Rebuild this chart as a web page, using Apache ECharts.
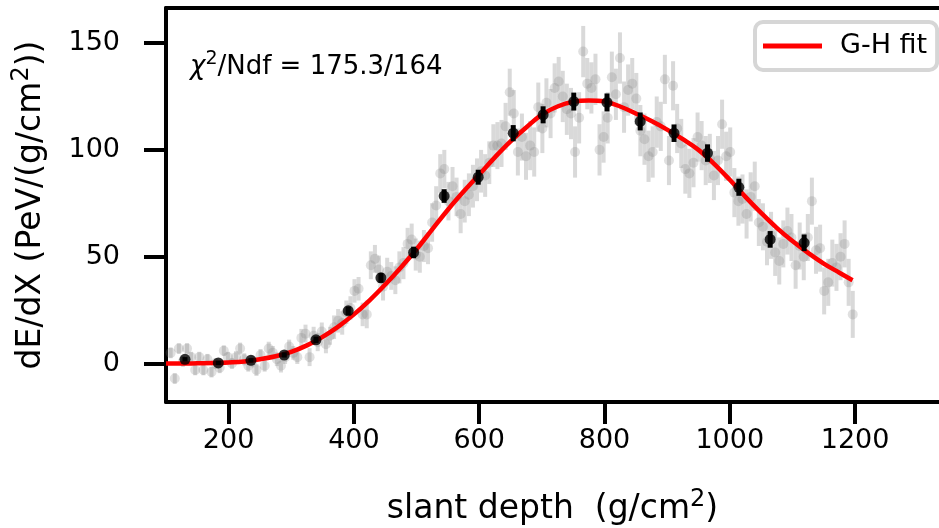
<!DOCTYPE html>
<html><head><meta charset="utf-8">
<script src="https://cdn.jsdelivr.net/npm/echarts@6/dist/echarts.min.js"></script>
<style>html,body{margin:0;padding:0;background:#fff}#c{width:939px;height:528px}</style>
</head><body><div id="c"></div>
<script>
// individual measurements (grey)
const greyX = [107.5,114.0,120.5,127.1,133.6,140.1,146.6,153.1,159.7,166.2,172.7,179.2,185.7,192.3,198.8,205.3,211.8,218.3,224.9,231.4,237.9,244.4,250.9,257.5,264.0,270.5,277.0,283.5,290.1,296.6,303.1,309.6,316.1,322.7,329.2,335.7,342.2,348.7,355.3,361.8,368.3,374.8,381.3,387.9,394.4,400.9,407.4,413.9,420.5,427.0,433.5,440.0,446.5,453.1,459.6,466.1,472.6,479.1,485.7,492.2,498.7,505.2,511.7,518.3,524.8,531.3,537.8,544.3,550.9,557.4,563.9,570.4,576.9,583.5,590.0,596.5,603.0,609.5,616.1,622.6,629.1,635.6,642.1,648.7,655.2,661.7,668.2,674.7,681.3,687.8,694.3,700.8,707.3,713.9,720.4,726.9,733.4,739.9,746.5,753.0,759.5,766.0,772.5,779.1,785.6,792.1,798.6,805.1,811.7,818.2,824.7,831.2,837.7,844.3,850.8,857.3,863.8,870.3,876.9,883.4,889.9,896.4,902.9,909.5,916.0,922.5,929.0,935.5,942.1,948.6,955.1,961.6,968.1,974.7,981.2,987.7,994.2,1000.7,1007.3,1013.8,1020.3,1026.8,1033.3,1039.9,1046.4,1052.9,1059.4,1065.9,1072.5,1079.0,1085.5,1092.0,1098.5,1105.1,1111.6,1118.1,1124.6,1131.1,1137.7,1144.2,1150.7,1157.2,1163.7,1170.3,1176.8,1183.3,1189.8,1196.3];
const greyY = [5,-7,7,1,7,3,-3,3, -3,2,-4,0,-2,6,3,0, 3,7,2,-1,1,-3,4,-1, 7,5,2,-1,3,8,5,3,
  12,14,3,13,10,15,9,13, 17,20,19,24,26,34,35,23, 23,46,49,44,36,43,41,39, 45,47,56,58,51,50,55,54,
  66,74,89,91,76,83,78,70, 76,79,83,86,90,88,94,102, 102,103,111,127,117,99,106,97, 102,99,120,110,122,117,129,132,
  125,119,117,99,115,146,131,129, 133,100,106,115,134,126,143,120, 128,131,124,109,105,97,99,113, 111,133,95,130,110,103,91,89,
  94,106,102,95,96,88,95,112, 97,99,80,76,77,70,78,83, 66,64,57,60,52,48,56,62, 59,46,55,50,59,76,53,54,
  34,38,47,45,50,56,38,23];
const greyErr = [2.5,2.5,2.5,2.5,2.5,2.5,2.5,2.5, 2.5,2.5,2.5,2.5,2.5,2.5,2.5,2.5, 2.8,2.8,2.8,2.8,2.8,2.8,2.8,2.8, 3.2,3.2,3.2,3.2,3.2,3.2,3.2,3.2,
  4.2,4.2,4.2,4.2,4.2,4.2,4.2,4.2, 5.5,5.5,5.5,5.5,5.5,5.5,5.5,5.5, 6.5,6.5,6.5,6.5,6.5,6.5,6.5,6.5, 7.5,7.5,7.5,7.5,7.5,7.5,7.5,7.5,
  9,9,9,9,9,9,9,9, 10,10,10,10,10,10,10,10, 11,11,11,11,11,11,11,11, 11.5,11.5,11.5,11.5,11.5,11.5,11.5,11.5,
  12,12,12,12,12,12,12,12, 12,12,12,12,12,12,12,12, 12,12,12,12,12,12,12,12, 11.5,11.5,11.5,11.5,11.5,11.5,11.5,11.5,
  11.5,11.5,11.5,11.5,11.5,11.5,11.5,11.5, 11.5,11.5,11.5,11.5,11.5,11.5,11.5,11.5, 11,11,11,11,11,11,11,11, 11,11,11,11,11,11,11,11,
  11,11,11,11,11,11,11,11];
// binned averages (black)
const binX = [130.3,183.5,235.6,288.8,339.4,390.9,443.1,495.3,544,598.4,654.3,702,751,804,857,911,964.5,1014.5,1064.5,1118.7];
const binY = [2.0,0.3,1.5,4.0,11.1,24.7,40.1,52.0,78.4,87.2,107.8,116.4,122.6,122.2,113.3,107.8,98.5,82.5,58.1,56.5];
const binErr = [1,1,1,1.2,1.5,2,2.3,2.7,3.2,3.5,3.8,4,4.2,4.2,4.2,4.1,4.1,4,3.9,3.9];
// Gaisser-Hillas fit curve
const fitX = [100,125,150,175,200,225,250,275,300,325,350,375,400,425,450,475,500,525,550,575,600,625,650,675,700,725,750,775,800,825,850,875,900,925,950,975,1000,1025,1050,1075,1100,1125,1150,1175,1196];
const fitY = [0,0,0.1,0.2,0.5,1.0,2.0,3.4,5.5,8.5,12.5,17.3,23,29.6,37,45,53.5,62.8,72,80.5,88.5,96.5,104,110.5,116.5,120.3,122.5,123.1,122.6,120.3,117,113.5,109.5,105,100,93.5,86,78,70.5,63.5,57.3,51.8,46.8,42.5,39];
const xTicks = [200,400,600,800,1000,1200];
const yTicks = [0,50,100,150];

const FONT = 'DejaVu Sans';
const chart = echarts.init(document.getElementById('c'), null, {renderer: 'canvas'});

function zip3(a, b, c) { return a.map((v, i) => [v, b[i], c[i]]); }
function errRender(color, width) {
  return function (params, api) {
    const x = api.value(0), y = api.value(1), e = api.value(2);
    const p1 = api.coord([x, y - e]);
    const p2 = api.coord([x, y + e]);
    return {type: 'line', shape: {x1: p1[0], y1: p1[1], x2: p2[0], y2: p2[1]},
      style: {stroke: color, lineWidth: width}};
  };
}
const GREY = 'rgba(128,128,128,0.3)';
const axisLineStyle = {color: '#000', width: 4};
const plain = v => String(v);
const nameRich = {s: {fontFamily: FONT, fontSize: 24, color: '#000', verticalAlign: 'top', lineHeight: 24}};

chart.setOption({
  animation: false,
  backgroundColor: '#fff',
  grid: {left: 166, right: 0, top: 8, bottom: 126, containLabel: false, outerBoundsMode: 'none'},
  legend: {
    data: ['G-H fit'], left: 755, top: 22, orient: 'horizontal',
    icon: 'rect', itemWidth: 59, itemHeight: 5, itemGap: 0,
    padding: [10, 10, 10, 8],
    borderColor: '#d6d6d6', borderWidth: 4, borderRadius: 8, backgroundColor: '#fff',
    textStyle: {fontFamily: FONT, fontSize: 27, color: '#000', lineHeight: 28, padding: [0, 0, 0, 13]},
    selectedMode: false
  },
  xAxis: [{
    type: 'value', min: 100, max: 1334, position: 'bottom',
    axisLine: {show: true, onZero: false, lineStyle: axisLineStyle},
    axisTick: {show: true, inside: false, length: 22, lineStyle: {color: '#000', width: 4}, customValues: xTicks},
    axisLabel: {customValues: xTicks, formatter: plain, fontFamily: FONT, fontSize: 27, color: '#000', margin: 25},
    splitLine: {show: false},
    name: 'slant depth  (g/cm{s|2})', nameLocation: 'middle', nameGap: 86,
    nameTextStyle: {fontFamily: FONT, fontSize: 33, color: '#000', lineHeight: 42, rich: nameRich}
  }, {
    type: 'value', min: 100, max: 1334, position: 'top',
    axisLine: {show: true, onZero: false, lineStyle: axisLineStyle},
    axisTick: {show: false}, axisLabel: {show: false}, splitLine: {show: false}
  }],
  yAxis: [{
    type: 'value', min: -18, max: 166.4, position: 'left',
    axisLine: {show: true, onZero: false, lineStyle: axisLineStyle},
    axisTick: {show: true, inside: false, length: 22, lineStyle: {color: '#000', width: 4}, customValues: yTicks},
    axisLabel: {customValues: yTicks, formatter: plain, fontFamily: FONT, fontSize: 27, color: '#000', margin: 46},
    splitLine: {show: false},
    name: 'dE/dX (PeV/(g/cm{s|2}))', nameLocation: 'middle', nameGap: 114, nameRotate: 90,
    nameTextStyle: {fontFamily: FONT, fontSize: 33, color: '#000', lineHeight: 42, rich: nameRich}
  }],
  graphic: [{
    type: 'text', left: 190, top: 50, silent: true,
    style: {
      text: '{i|χ}{s|2}{a|/Ndf = 175.3/164}',
      rich: {
        i: {fontFamily: FONT, fontStyle: 'italic', fontSize: 26, fill: '#000', lineHeight: 34},
        s: {fontFamily: FONT, fontSize: 19, fill: '#000', verticalAlign: 'top', lineHeight: 19},
        a: {fontFamily: FONT, fontSize: 26, fill: '#000', lineHeight: 34}
      }
    }
  }],
  series: [
    {type: 'custom', name: 'greyErr', silent: true, z: 1, clip: true,
      renderItem: errRender(GREY, 4), data: zip3(greyX, greyY, greyErr)},
    {type: 'scatter', name: 'grey', silent: true, z: 2, symbolSize: 10,
      itemStyle: {color: GREY}, data: greyX.map((x, i) => [x, greyY[i]])},
    {type: 'line', name: 'G-H fit', silent: true, z: 3, smooth: 0.4, showSymbol: false, symbol: 'none',
      lineStyle: {color: '#ff0000', width: 4.5}, itemStyle: {color: '#ff0000'},
      data: fitX.map((x, i) => [x, fitY[i]])},
    {type: 'custom', name: 'binErr', silent: true, z: 4,
      renderItem: errRender('#000', 5), data: zip3(binX, binY, binErr)},
    {type: 'scatter', name: 'bins', silent: true, z: 5, symbolSize: 11,
      itemStyle: {color: '#000'}, data: binX.map((x, i) => [x, binY[i]])}
  ]
});
</script></body></html>
